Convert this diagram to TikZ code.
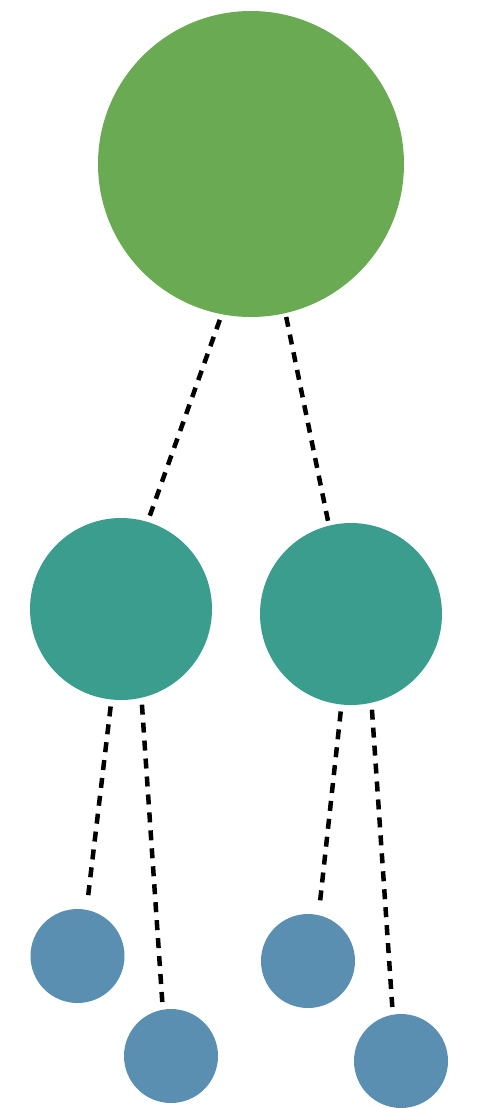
\documentclass[tikz,border=0pt]{standalone}
\definecolor{topgreen}{HTML}{6AAA52}
\definecolor{midteal}{HTML}{3A9D8E}
\definecolor{leafblue}{HTML}{5B8FB2}
\tikzset{
  ball/.style={circle, inner sep=0pt, outer sep=0pt, draw=none},
  link/.style={line width=4.5pt, dash pattern=on 10pt off 8pt, black}
}
\begin{document}
\begin{tikzpicture}[x=1pt, y=-1pt]
\useasboundingbox (0,0) rectangle (477,1108);
\node[ball, fill=topgreen, minimum size=306pt] (root) at (251,164) {};
\node[ball, fill=midteal, minimum size=182pt] (lm) at (121,609) {};
\node[ball, fill=midteal, minimum size=182pt] (rm) at (351,614) {};
\node[ball, fill=leafblue, minimum size=94pt] (l1) at (77.5,956) {};
\node[ball, fill=leafblue, minimum size=94pt] (l2) at (171,1056) {};
\node[ball, fill=leafblue, minimum size=94pt] (r1) at (308,961) {};
\node[ball, fill=leafblue, minimum size=94pt] (r2) at (401,1061) {};
\draw[link, shorten <=6pt] (root.259) -- (lm.73.5);
\draw[link, shorten <=4pt] (root.283) -- (rm.104);
\draw[link, shorten <=7pt, shorten >=7pt] (lm.264) -- (l1.79);
\draw[link, shorten <=7pt] (lm.283) -- (l2.100);
\draw[link, shorten <=7pt, shorten >=7pt] (rm.264) -- (r1.77);
\draw[link, shorten <=7pt] (rm.283.5) -- (r2.100);
\end{tikzpicture}
\end{document}
